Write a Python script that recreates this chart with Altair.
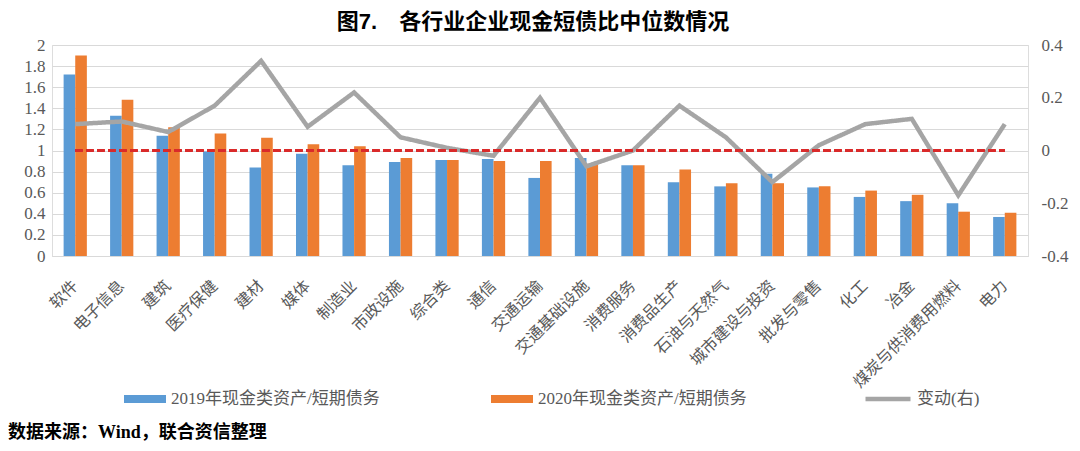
import altair as alt
import pandas as pd

categories = ["软件", "电子信息", "建筑", "医疗保健", "建材", "媒体", "制造业", "市政设施",
              "综合类", "通信", "交通运输", "交通基础设施", "消费服务", "消费品生产",
              "石油与天然气", "城市建设与投资", "批发与零售", "化工", "冶金",
              "煤炭与供消费用燃料", "电力"]
v2019 = [1.72, 1.33, 1.14, 0.99, 0.84, 0.97, 0.86, 0.89, 0.91, 0.92, 0.74, 0.93, 0.86,
         0.70, 0.66, 0.78, 0.65, 0.56, 0.52, 0.50, 0.37]
v2020 = [1.90, 1.48, 1.22, 1.16, 1.12, 1.06, 1.04, 0.93, 0.91, 0.90, 0.90, 0.87, 0.86,
         0.82, 0.69, 0.69, 0.66, 0.62, 0.58, 0.42, 0.41]
change = [0.10, 0.11, 0.07, 0.17, 0.34, 0.09, 0.22, 0.05, 0.01, -0.02, 0.20, -0.06, 0.00,
          0.17, 0.05, -0.12, 0.02, 0.10, 0.12, -0.17, 0.10]
series_names = ["2019年现金类资产/短期债务", "2020年现金类资产/短期债务", "变动(右)"]
series_colors = ["#5B9BD5", "#ED7D31", "#A5A5A5"]
left_ticks = [0, 0.2, 0.4, 0.6, 0.8, 1, 1.2, 1.4, 1.6, 1.8, 2]
right_ticks = [-0.4, -0.3, -0.2, -0.1, 0, 0.1, 0.2, 0.3, 0.4]
title_text = "图7.\u3000各行业企业现金短债比中位数情况"
source_text = "数据来源：Wind，联合资信整理"

bar_df = pd.DataFrame({
    "cat": categories * 2,
    "series": [series_names[0]] * len(categories) + [series_names[1]] * len(categories),
    "value": v2019 + v2020,
})
line_df = pd.DataFrame({"cat": categories, "series": series_names[2], "value": change})
src_df = pd.DataFrame({"t": [source_text]})

serif = "Liberation Serif, Noto Sans CJK SC"
lab_color = "#595959"

bar_legend = alt.Legend(
    title=None, orient="none", legendX=72, legendY=333, direction="horizontal",
    columns=2, gridAlign="all", columnPadding=111,
    symbolType="M-1,-0.19L1,-0.19L1,0.19L-1,0.19Z", symbolSize=1764,
    symbolStrokeWidth=0, labelFontSize=17, labelFont=serif,
    labelColor=lab_color, labelLimit=400, labelOffset=5,
)
line_legend = alt.Legend(
    title=None, orient="none", legendX=811, legendY=329, direction="horizontal",
    symbolType="stroke", symbolSize=2025, symbolStrokeWidth=4.5,
    symbolStrokeColor=series_colors[2], labelFontSize=17, labelFont=serif,
    labelColor=lab_color, labelLimit=400, labelOffset=4,
)

x_enc = alt.X("cat:N", sort=categories, title=None,
              scale=alt.Scale(paddingInner=0.5, paddingOuter=0.25),
              axis=alt.Axis(labelAngle=-45, labelBaseline="middle", labelAlign="right",
                            labelFontSize=16, labelFont=serif,
                            labelColor=lab_color, ticks=False, domainColor="#D9D9D9",
                            labelPadding=27, labelLimit=300))

bars = alt.Chart(bar_df).mark_bar().encode(
    x=x_enc,
    xOffset=alt.XOffset("series:N", sort=series_names[:2]),
    y=alt.Y("value:Q", title=None, scale=alt.Scale(domain=[0, 2], nice=False),
            axis=alt.Axis(orient="left", values=left_ticks, labelExpr="toString(datum.value)",
                          grid=True, gridColor="#D9D9D9", domain=False, ticks=False,
                          labelFontSize=17, labelFont=serif, labelColor=lab_color,
                          labelPadding=7)),
    color=alt.Color("series:N", scale=alt.Scale(domain=series_names[:2], range=series_colors[:2]),
                    legend=bar_legend),
)

line = alt.Chart(line_df).mark_line(strokeWidth=4.5, color=series_colors[2]).encode(
    x=alt.X("cat:N", sort=categories),
    y=alt.Y("value:Q", title=None, scale=alt.Scale(domain=[-0.4, 0.4], nice=False),
            axis=alt.Axis(orient="right", values=right_ticks, labelExpr="toString(datum.value)",
                          grid=False, domain=False, ticks=False,
                          labelFontSize=17, labelFont=serif, labelColor=lab_color,
                          labelPadding=13)),
    strokeDash=alt.StrokeDash("series:N", scale=alt.Scale(domain=[series_names[2]], range=[[1, 0]]),
                              legend=line_legend),
)

rule = alt.Chart(line_df).mark_rule(color="#DA2A2A", strokeWidth=1.8, strokeDash=[7, 4]).encode(
    x=alt.X(datum=categories[0]),
    x2=alt.X2(datum=categories[-1]),
    y=alt.Y(datum=0),
)

right_layer = alt.layer(line, rule)

src = alt.Chart(src_df).mark_text(align="left", baseline="alphabetic", fontSize=18,
                                  fontWeight="bold", font=serif, color="#000000").encode(
    text="t:N", x=alt.value(-44), y=alt.value(393))

chart = alt.layer(bars, right_layer, src).resolve_scale(y="independent").properties(
    width=976, height=211,
    autosize=alt.AutoSizeParams(type="none"),
    padding={"left": 44, "top": 37, "right": 44, "bottom": 185},
    title=alt.TitleParams(title_text, fontSize=22, fontWeight="bold",
                          font="Liberation Sans, Noto Sans CJK SC", color="#000000", offset=2,
                          anchor="middle", dx=-7, dy=0),
).configure_view(stroke=None).configure(background="white")

chart.save("out.html", embed_options={"renderer": "svg", "actions": False})
